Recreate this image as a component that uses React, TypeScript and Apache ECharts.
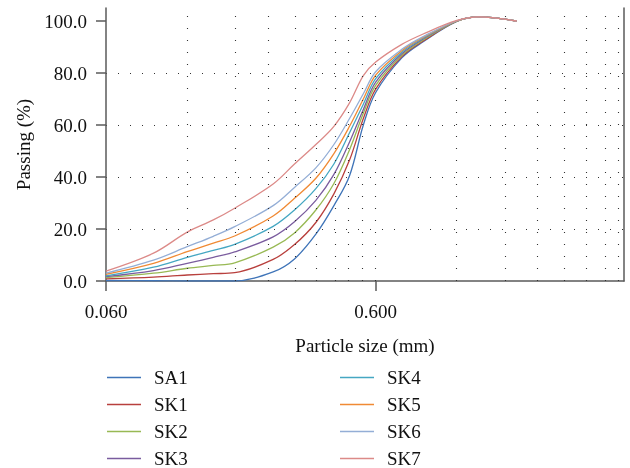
import React, { useEffect, useRef } from "react";
import * as echarts from "echarts";

// Particle sizes (mm) at which the curves were read
const sizes = [0.06, 0.09, 0.12, 0.15, 0.18, 0.25, 0.3, 0.36, 0.42, 0.48, 0.54, 0.6, 0.75, 0.9, 1.2, 1.45, 2.0];

const SA1 = [0.2, 0.1, 0, 0, 0, 3.5, 8.5, 18, 29, 40.5, 60, 72.5, 85.8, 92, 99.8, 101.6, 100];
const SK1 = [0.8, 1.5, 2.3, 2.8, 3.2, 8.3, 14, 22.5, 33.5, 46.5, 62.5, 73.8, 86.3, 92.3, 99.9, 101.6, 100];
const SK2 = [1.3, 3, 4.9, 6, 7, 13, 18.5, 27.3, 37.5, 50.5, 64.5, 75.2, 86.8, 92.7, 99.9, 101.6, 100];
const SK3 = [1.7, 4, 6.8, 9.1, 11.2, 17, 22.8, 31, 41, 53.5, 66, 76.5, 87.4, 93.1, 100, 101.6, 100];
const SK4 = [2, 5.3, 9.1, 11.8, 14.1, 21, 27.3, 35.5, 45, 57, 68, 77.8, 88, 93.4, 100, 101.6, 100];
const SK5 = [2.6, 6.8, 11.3, 14.6, 17.3, 25, 31.8, 39.5, 49, 59.5, 70, 79.2, 88.6, 93.7, 100, 101.6, 100];
const SK6 = [3, 8, 13.2, 17.2, 20.9, 29, 36, 43.5, 52.5, 62.5, 72, 80.5, 89.1, 94, 100.1, 101.6, 100];
const SK7 = [3.8, 10.7, 18.8, 23.5, 28, 37.3, 45, 52.5, 59.5, 68.5, 79, 84.2, 91, 95, 100.2, 101.6, 100];

const seriesNames = ["SA1", "SK1", "SK2", "SK3", "SK4", "SK5", "SK6", "SK7"];
const seriesValues = [SA1, SK1, SK2, SK3, SK4, SK5, SK6, SK7];
const colors = ["#3f74b8", "#b8403d", "#98b954", "#7a5c9e", "#45a7c2", "#f08a34", "#94aed6", "#dc8a88"];

// Axis range and tick labels
const xMinSize = 0.06;
const xMaxSize = 5.0;
const xTickSizes = [0.06, 0.6];
const gridSizes = [0.12, 0.18, 0.24, 0.3, 0.36, 0.42, 0.48, 0.54, 0.6, 1.2, 1.8, 2.4, 3.0, 3.6, 4.2, 4.8];
const yTicks = [0, 20, 40, 60, 80, 100];
const yMax = 105;

const toU = (d: number) => Math.log10(d / xMinSize);

const FONT = "'Liberation Serif', 'DejaVu Serif', serif";
const FS = 19;

export default function App() {
  const ref = useRef<HTMLDivElement>(null);
  useEffect(() => {
    if (!ref.current) return;
    const chart = echarts.init(ref.current, null, { renderer: "svg" });
    const axisLineStyle = { color: "#5a5a5a", width: 1.5 };
    const dotted = { color: "#333", width: 1.1, type: [1, 11] as any };
    const series: any[] = seriesNames.map((name, i) => ({
      name,
      type: "line",
      smooth: 0.35,
      symbol: "none",
      data: sizes.map((d, k) => [toU(d), seriesValues[i][k]]),
      lineStyle: { width: 1.3, color: colors[i] },
      itemStyle: { color: colors[i] },
      z: 3,
    }));
    series.push({
      name: "grid",
      type: "line",
      data: [],
      silent: true,
      z: 1,
      markLine: {
        silent: true,
        symbol: ["none", "none"],
        label: { show: false },
        lineStyle: dotted,
        data: gridSizes.map((d) => ({ xAxis: toU(d) })),
      },
    });
    const legendCommon = {
      orient: "vertical",
      icon: "path://M0,0 L34,0 L34,1.4 L0,1.4 Z",
      itemWidth: 34,
      itemHeight: 1.5,
      itemGap: 8,
      height: 120,
      textStyle: { fontFamily: FONT, fontSize: FS, color: "#111", lineHeight: 19, padding: [0, 0, 0, 8] },
      selectedMode: false,
    };
    chart.setOption({
      animation: false,
      color: colors,
      grid: { left: 106, right: 6, top: 8, bottom: 187, containLabel: false },
      legend: [
        { ...legendCommon, left: 102, top: 363, data: seriesNames.slice(0, 4) },
        { ...legendCommon, left: 335, top: 363, data: seriesNames.slice(4) },
      ],
      xAxis: {
        type: "value",
        min: 0,
        max: toU(xMaxSize),
        name: "Particle size (mm)",
        nameLocation: "middle",
        nameGap: 55,
        nameTextStyle: { fontFamily: FONT, fontSize: FS, color: "#111" },
        axisLine: { show: true, lineStyle: axisLineStyle },
        axisTick: { show: true, length: 10, lineStyle: axisLineStyle, customValues: xTickSizes.map(toU) },
        axisLabel: {
          fontFamily: FONT,
          fontSize: FS,
          color: "#111",
          margin: 21,
          customValues: xTickSizes.map(toU),
          formatter: (v: number) => (xMinSize * Math.pow(10, v)).toFixed(3),
        },
        splitLine: { show: false },
      },
      yAxis: [
        {
          type: "value",
          min: 0,
          max: yMax,
          name: "Passing (%)",
          nameLocation: "middle",
          nameGap: 72,
          nameTextStyle: { fontFamily: FONT, fontSize: FS, color: "#111" },
          axisLine: { show: true, lineStyle: axisLineStyle },
          axisTick: { show: true, length: 10, lineStyle: axisLineStyle, customValues: yTicks },
          axisLabel: {
            fontFamily: FONT,
            fontSize: FS,
            color: "#111",
            margin: 19,
            customValues: yTicks,
            formatter: (v: number) => v.toFixed(1),
          },
          splitLine: { show: true, showMinLine: false, showMaxLine: false, lineStyle: dotted },
          interval: 20,
        },
        {
          type: "value",
          min: 0,
          max: yMax,
          position: "right",
          axisLine: { show: true, lineStyle: axisLineStyle },
          axisTick: { show: false },
          axisLabel: { show: false },
          splitLine: { show: false },
        },
      ],
      series,
    });
    return () => chart.dispose();
  }, []);
  return <div ref={ref} style={{ position: "fixed", left: 0, top: 0, width: 630, height: 468 }} />;
}
